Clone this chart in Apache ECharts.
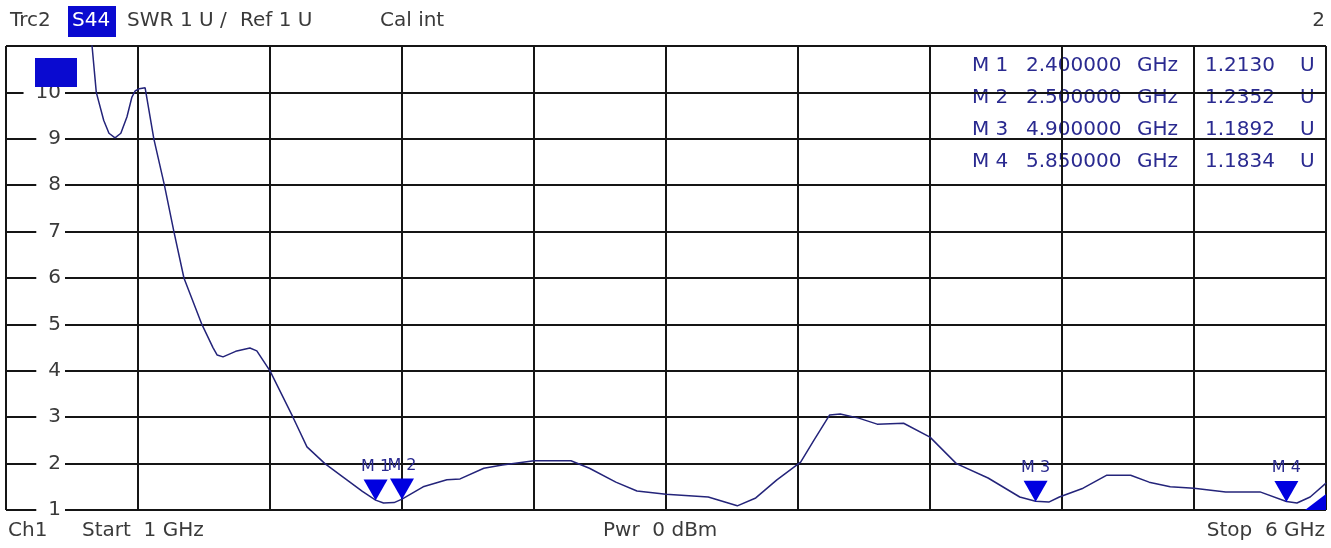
<!DOCTYPE html>
<html>
<head>
<meta charset="utf-8">
<script src="https://cdn.jsdelivr.net/npm/echarts@6/dist/echarts.min.js"></script>
<style>
  html, body { margin: 0; padding: 0; background: #fff; }
  #chart { width: 1331px; height: 548px; }
</style>
</head>
<body>
<div id="chart"></div>
<script>
// trace S44, SWR
const freqGHz = [1.00, 1.20, 1.30, 1.326, 1.342, 1.37, 1.39, 1.413, 1.435, 1.458, 1.477, 1.489, 1.505, 1.527, 1.56, 1.60,
  1.636, 1.674, 1.742, 1.784, 1.80, 1.822, 1.87, 1.924, 1.95, 2.00, 2.087, 2.14, 2.208, 2.277, 2.35, 2.40,
  2.43, 2.47, 2.50, 2.58, 2.67, 2.72, 2.81, 2.88, 3.00, 3.14, 3.21, 3.31, 3.39, 3.50, 3.66, 3.77,
  3.84, 3.92, 4.01, 4.06, 4.12, 4.16, 4.23, 4.30, 4.40, 4.50, 4.60, 4.72, 4.84, 4.90, 4.95, 4.99,
  5.08, 5.17, 5.26, 5.33, 5.41, 5.50, 5.62, 5.75, 5.85, 5.89, 5.94, 6.00]
const swrValues = [17.0, 13.5, 11.6, 11.0, 10.0, 9.4, 9.12, 9.02, 9.12, 9.47, 9.9, 10.03, 10.08, 10.1, 9.0, 8.0,
  7.0, 6.0, 5.0, 4.5, 4.34, 4.30, 4.42, 4.49, 4.43, 4.0, 3.0, 2.36, 2.0, 1.71, 1.40, 1.213,
  1.15, 1.16, 1.235, 1.50, 1.65, 1.67, 1.90, 1.97, 2.06, 2.06, 1.90, 1.60, 1.41, 1.34, 1.28, 1.09,
  1.26, 1.65, 2.03, 2.5, 3.05, 3.07, 2.98, 2.85, 2.87, 2.57, 2.0, 1.69, 1.28, 1.189, 1.17, 1.28,
  1.47, 1.75, 1.75, 1.6, 1.5, 1.47, 1.39, 1.39, 1.183, 1.15, 1.28, 1.58]

const markerNames = ['M 1', 'M 2', 'M 3', 'M 4']
const markerFreq = [2.4, 2.5, 4.9, 5.85]
const markerSwr = [1.2130, 1.2352, 1.1892, 1.1834]

const headerWords = ['Trc2', 'S44', 'SWR', '1 U /', 'Ref 1 U', 'Cal int']
const footerWords = ['Ch1', 'Start  1 GHz', 'Pwr  0 dBm', 'Stop  6 GHz']

let chart = echarts.init(document.getElementById('chart'))

const FAMILY = '"DejaVu Sans", Verdana, sans-serif'
const FONT = '20px ' + FAMILY
const gridLine = { color: '#151515', width: 2 }
const markBlue = '#0000e0'
const markText = '#2a2a90'
const grey = '#3a3a3a'

let graphic = []
// header
const headerX = [10, 72, 127, 180, 240, 380]
headerWords.forEach((w, i) => {
    if (w === 'S44') {
        graphic.push({ type: 'rect', shape: { x: 68, y: 6, width: 48, height: 31 }, style: { fill: '#0a0ad0' } })
    }
    graphic.push({
        type: 'text', x: headerX[i], y: 21, z: 10,
        style: { text: w, font: FONT, fill: w === 'S44' ? '#fff' : grey, verticalAlign: 'middle' }
    })
})
graphic.push({ type: 'text', x: 1325, y: 21, style: { text: '2', font: FONT, fill: grey, align: 'right', verticalAlign: 'middle' } })

// footer
const footerX = [8, 82, 603, 1325]
footerWords.forEach((w, i) => {
    graphic.push({
        type: 'text', x: footerX[i], y: 531,
        style: { text: w, font: FONT, fill: grey, align: i === 3 ? 'right' : 'left', verticalAlign: 'middle' }
    })
})

// marker table
const rowY = [66, 98, 130, 162]
markerNames.forEach((m, i) => {
    let t = (x, s, align) => graphic.push({
        type: 'text', x: x, y: rowY[i],
        style: { text: s, font: FONT, fill: markText, align: align, verticalAlign: 'middle' }
    })
    t(972, m, 'left')
    t(1026, markerFreq[i].toFixed(6), 'left')
    t(1178, 'GHz', 'right')
    t(1275, markerSwr[i].toFixed(4), 'right')
    t(1300, 'U', 'left')
})

// reference-level tag top left and corner indicator
graphic.push({ type: 'rect', z: 20, shape: { x: 35, y: 58, width: 42, height: 29 }, style: { fill: '#0a0ad0' } })
graphic.push({ type: 'polygon', z: 20, shape: { points: [[1305, 510], [1326, 510], [1326, 494]] }, style: { fill: markBlue } })

let option = {
    animation: false,
    backgroundColor: '#fff',
    textStyle: { fontFamily: FAMILY },
    grid: { left: 6, right: 5, top: 46, bottom: 38 },
    xAxis: {
        type: 'value', min: 1, max: 6, interval: 0.5,
        axisLine: { show: false }, axisTick: { show: false }, axisLabel: { show: false },
        splitLine: { show: true, lineStyle: gridLine }
    },
    yAxis: {
        type: 'value', min: 1, max: 11, interval: 1,
        axisLine: { show: false }, axisTick: { show: false },
        splitLine: { show: true, lineStyle: gridLine },
        axisLabel: {
            inside: true, margin: 59, align: 'right', showMaxLabel: false,
            fontSize: 20, color: grey, backgroundColor: '#fff', padding: [0, 4, 0, 12]
        }
    },
    series: [{
        type: 'line',
        data: freqGHz.map((f, i) => [f, swrValues[i]]),
        symbol: 'none',
        clip: true,
        lineStyle: { color: '#24247a', width: 1.5 },
        markPoint: {
            symbol: 'path://M0,0 L24,0 L12,21 Z',
            symbolSize: [24, 21],
            symbolOffset: [0, -10],
            itemStyle: { color: markBlue },
            label: { show: true, position: 'top', distance: 5, color: markText, fontSize: 16, formatter: p => p.name },
            data: markerNames.map((m, i) => ({ name: m, coord: [markerFreq[i], markerSwr[i]] }))
        }
    }],
    graphic: graphic
}
chart.setOption(option)
</script>
</body>
</html>
